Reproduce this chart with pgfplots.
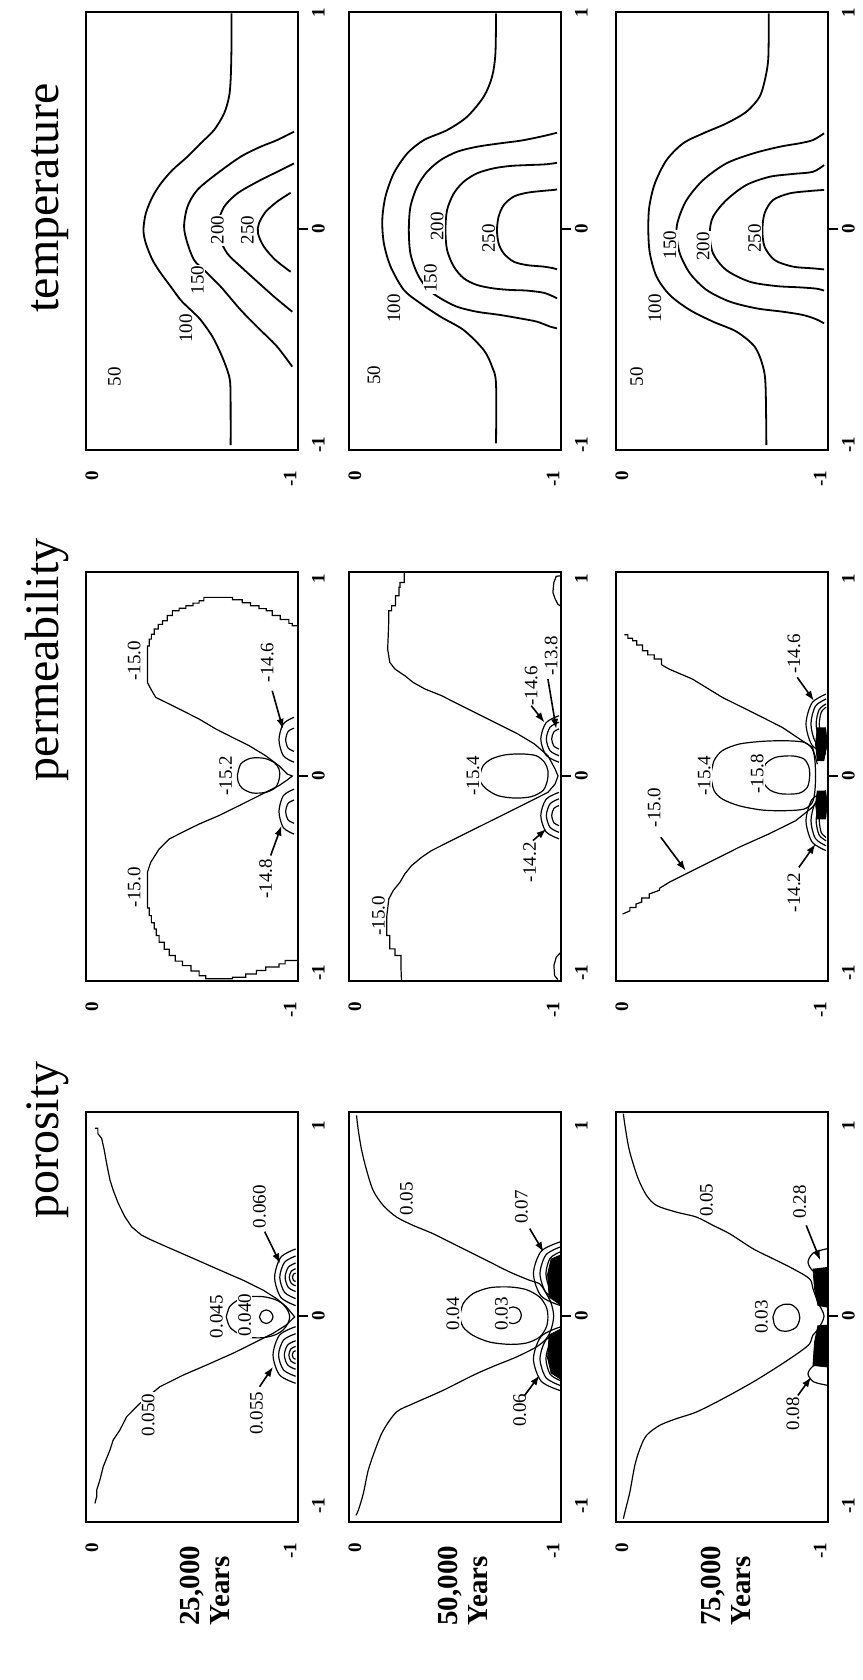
\documentclass[border=0pt]{standalone}
\usepackage{fontspec}
\setmainfont{Liberation Serif}
\usepackage{pgfplots}
\pgfplotsset{compat=1.18}
\usetikzlibrary{arrows.meta}

% one panel: depth runs left (0) to right (-1), lateral position runs bottom (-1) to top (1)
\pgfplotsset{
  panel/.style={
    anchor=south west, scale only axis, width=106pt,
    xmin=-1.04, xmax=0.03, x dir=reverse,
    xtick={-1,0}, xticklabels={-1,0},
    ytick={-1,0,1}, yticklabels={-1,0,1},
    xtick pos=bottom, ytick pos=right, yticklabel pos=right,
    major tick length=0pt,
    tick label style={font=\fontsize{9.5}{10}\selectfont\bfseries},
    xticklabel style={rotate=90, anchor=east},
    yticklabel style={rotate=90, anchor=north},
    xticklabel shift=7pt, yticklabel shift=3.5pt,
    extra y ticks={0}, extra y tick labels={{}},
    extra y tick style={tick align=outside, major tick length=5pt,
      tick style={line width=1.3pt, black}},
    axis line style={line width=1.3pt},
    tick style={black},
  },
  rowT/.style={panel, height=219pt, ymin=-1.023, ymax=1.005},
  rowK/.style={panel, height=204.5pt, ymin=-1.041, ymax=1.036},
  rowP/.style={panel, height=205pt, ymin=-1.084, ymax=1.074},
}
\tikzset{
  ct/.style={black, line width=0.9pt, smooth, mark=none},
  cl/.style={black, line width=0.6pt, mark=none},
  cs/.style={cl, smooth},
  band/.style={black, fill=black, line width=0.4pt, mark=none},
  lb/.style={rotate=90, font=\fontsize{9.5}{10}\selectfont, fill=white, inner sep=0.6pt},
  ar/.style={-{Latex[length=5pt,width=3.6pt]}, line width=0.8pt},
  ttl/.style={rotate=90, anchor=base, font=\fontsize{24}{28}\selectfont},
  yrs/.style={rotate=90, anchor=west, align=left, inner sep=0pt,
    font=\fontsize{14.5}{15}\selectfont\bfseries},
}

\begin{document}
\begin{tikzpicture}
\path[use as bounding box] (0,0) rectangle (431pt,840pt);

% column titles and time labels
\node[ttl] at (29pt,741pt) {temperature};
\node[ttl] at (29pt,510pt) {permeability};
\node[ttl] at (29pt,270pt) {porosity};
\node[yrs] at (102.5pt,27pt) {25,000\\Years};
\node[yrs] at (231.5pt,27pt) {50,000\\Years};
\node[yrs] at (363pt,27pt) {75,000\\Years};

%% ---------------- temperature ----------------
\begin{axis}[rowT, at={(43pt,615pt)}]
\addplot[ct] coordinates {(-0.700,-1.000) (-0.700,-0.869) (-0.698,-0.715) (-0.683,-0.653) (-0.650,-0.576) (-0.608,-0.498) (-0.549,-0.421) (-0.499,-0.375) (-0.448,-0.329) (-0.398,-0.267) (-0.348,-0.205) (-0.306,-0.144) (-0.272,-0.066) (-0.260,-0.005) (-0.272,0.073) (-0.306,0.150) (-0.348,0.211) (-0.406,0.273) (-0.482,0.335) (-0.549,0.397) (-0.616,0.458) (-0.667,0.535) (-0.692,0.613) (-0.700,0.690) (-0.704,0.829) (-0.704,0.998)};
\addplot[ct] coordinates {(-1.02,0.451) (-0.935,0.412) (-0.851,0.381) (-0.751,0.335) (-0.633,0.258) (-0.532,0.181) (-0.482,0.103) (-0.465,0.011) (-0.482,-0.066) (-0.516,-0.144) (-0.566,-0.190) (-0.650,-0.267) (-0.751,-0.375) (-0.851,-0.468) (-0.935,-0.545) (-1.011,-0.637)};
\addplot[ct] coordinates {(-1.02,0.304) (-0.935,0.265) (-0.835,0.219) (-0.734,0.165) (-0.667,0.103) (-0.636,0.026) (-0.641,-0.035) (-0.683,-0.113) (-0.751,-0.174) (-0.835,-0.244) (-0.919,-0.313) (-1.011,-0.383)};
\addplot[ct] coordinates {(-1.003,0.168) (-0.935,0.127) (-0.877,0.080) (-0.843,0.026) (-0.838,-0.020) (-0.868,-0.082) (-0.927,-0.144) (-1.003,-0.198)};
\node[lb] at (axis cs:-0.113,-0.684) {50};
\node[lb] at (axis cs:-0.474,-0.460) {100};
\node[lb] at (axis cs:-0.532,-0.236) {150};
\node[lb] at (axis cs:-0.633,-0.005) {200};
\node[lb] at (axis cs:-0.784,-0.005) {250};
\end{axis}

\begin{axis}[rowT, at={(174.5pt,615pt)}]
\addplot[ct] coordinates {(-0.712,-0.992) (-0.712,-0.715) (-0.692,-0.637) (-0.650,-0.560) (-0.549,-0.468) (-0.432,-0.406) (-0.331,-0.344) (-0.247,-0.282) (-0.180,-0.174) (-0.146,-0.066) (-0.138,0.042) (-0.154,0.150) (-0.196,0.258) (-0.264,0.350) (-0.348,0.412) (-0.465,0.458) (-0.566,0.520) (-0.650,0.613) (-0.692,0.705) (-0.709,0.813) (-0.712,0.998)};
\addplot[ct] coordinates {(-1.02,0.446) (-0.986,0.438) (-0.919,0.424) (-0.835,0.409) (-0.734,0.397) (-0.616,0.381) (-0.516,0.358) (-0.432,0.319) (-0.364,0.265) (-0.314,0.196) (-0.280,0.103) (-0.272,-0.005) (-0.280,-0.113) (-0.314,-0.205) (-0.364,-0.275) (-0.432,-0.321) (-0.516,-0.360) (-0.616,-0.383) (-0.734,-0.398) (-0.835,-0.414) (-0.919,-0.429) (-0.986,-0.452) (-1.02,-0.460)};
\addplot[ct] coordinates {(-1.02,0.307) (-1.003,0.304) (-0.952,0.299) (-0.868,0.296) (-0.784,0.292) (-0.700,0.281) (-0.616,0.258) (-0.549,0.219) (-0.499,0.165) (-0.465,0.088) (-0.457,-0.005) (-0.465,-0.097) (-0.499,-0.174) (-0.549,-0.228) (-0.616,-0.259) (-0.700,-0.275) (-0.784,-0.282) (-0.868,-0.285) (-0.952,-0.295) (-1.003,-0.313) (-1.02,-0.321)};
\addplot[ct] coordinates {(-1.02,0.184) (-1.003,0.181) (-0.952,0.177) (-0.868,0.168) (-0.801,0.150) (-0.751,0.111) (-0.725,0.057) (-0.717,-0.005) (-0.725,-0.066) (-0.751,-0.113) (-0.801,-0.151) (-0.868,-0.167) (-0.952,-0.174) (-1.003,-0.182) (-1.02,-0.187)};
\node[lb] at (axis cs:-0.096,-0.676) {50};
\node[lb] at (axis cs:-0.196,-0.367) {100};
\node[lb] at (axis cs:-0.381,-0.228) {150};
\node[lb] at (axis cs:-0.415,0.011) {200};
\node[lb] at (axis cs:-0.675,-0.043) {250};
\end{axis}

\begin{axis}[rowT, at={(308pt,615pt)}]
\addplot[ct] coordinates {(-0.741,0.998) (-0.739,0.798) (-0.725,0.705) (-0.695,0.613) (-0.628,0.543) (-0.527,0.489) (-0.410,0.443) (-0.309,0.397) (-0.225,0.319) (-0.166,0.211) (-0.138,0.103) (-0.133,-0.005) (-0.141,-0.113) (-0.175,-0.221) (-0.242,-0.306) (-0.343,-0.375) (-0.460,-0.429) (-0.578,-0.475) (-0.670,-0.545) (-0.712,-0.637) (-0.725,-0.730) (-0.729,-1.000)};
\addplot[ct] coordinates {(-1.02,0.443) (-0.964,0.412) (-0.897,0.397) (-0.796,0.381) (-0.662,0.350) (-0.527,0.304) (-0.410,0.227) (-0.326,0.134) (-0.284,0.042) (-0.275,-0.020) (-0.292,-0.113) (-0.343,-0.205) (-0.427,-0.282) (-0.544,-0.336) (-0.678,-0.367) (-0.813,-0.383) (-0.914,-0.398) (-0.981,-0.418) (-1.02,-0.437)};
\addplot[ct] coordinates {(-1.02,0.296) (-0.964,0.265) (-0.863,0.255) (-0.746,0.242) (-0.628,0.204) (-0.527,0.134) (-0.460,0.057) (-0.443,-0.020) (-0.460,-0.113) (-0.527,-0.190) (-0.645,-0.244) (-0.779,-0.264) (-0.897,-0.270) (-0.981,-0.276) (-1.02,-0.285)};
\addplot[ct] coordinates {(-1.02,0.181) (-0.947,0.176) (-0.846,0.165) (-0.762,0.134) (-0.720,0.073) (-0.709,-0.005) (-0.720,-0.082) (-0.771,-0.144) (-0.863,-0.174) (-0.964,-0.182) (-1.02,-0.187)};
\node[lb] at (axis cs:-0.074,-0.684) {50};
\node[lb] at (axis cs:-0.166,-0.367) {100};
\node[lb] at (axis cs:-0.242,-0.074) {150};
\node[lb] at (axis cs:-0.410,-0.082) {200};
\node[lb] at (axis cs:-0.670,-0.043) {250};
\end{axis}

%% ---------------- permeability ----------------
\begin{axis}[rowK, at={(43pt,349.5pt)}]
\addplot[cl] coordinates {(-1.04,0.763) (-1.011,0.763) (-1.011,0.775) (-0.994,0.775) (-0.994,0.795) (-0.950,0.795) (-0.950,0.815) (-0.910,0.815) (-0.910,0.839) (-0.880,0.839) (-0.880,0.850) (-0.843,0.850) (-0.843,0.865) (-0.800,0.865) (-0.800,0.880) (-0.759,0.880) (-0.759,0.895) (-0.709,0.895) (-0.709,0.907) (-0.591,0.907) (-0.565,0.907) (-0.565,0.890) (-0.541,0.890) (-0.541,0.878) (-0.510,0.878) (-0.510,0.865) (-0.474,0.865) (-0.474,0.852) (-0.440,0.852) (-0.440,0.839) (-0.406,0.839) (-0.406,0.815) (-0.380,0.815) (-0.380,0.788) (-0.356,0.788) (-0.356,0.770) (-0.335,0.770) (-0.335,0.746) (-0.314,0.746) (-0.314,0.720) (-0.300,0.720) (-0.300,0.695) (-0.289,0.695) (-0.289,0.660) (-0.280,0.660) (-0.280,0.475) (-0.297,0.442) (-0.322,0.399) (-0.373,0.374) (-0.457,0.332) (-0.541,0.289) (-0.625,0.239) (-0.709,0.196) (-0.793,0.154) (-0.877,0.103) (-0.944,0.052) (-0.986,0.010) (-1.011,0.000) (-0.986,-0.020) (-0.944,-0.049) (-0.843,-0.100) (-0.742,-0.151) (-0.641,-0.201) (-0.541,-0.244) (-0.474,-0.277) (-0.390,-0.320) (-0.339,-0.371) (-0.297,-0.438) (-0.280,-0.489) (-0.280,-0.670) (-0.289,-0.670) (-0.289,-0.709) (-0.300,-0.709) (-0.300,-0.745) (-0.314,-0.745) (-0.314,-0.777) (-0.325,-0.777) (-0.325,-0.810) (-0.339,-0.810) (-0.339,-0.844) (-0.365,-0.844) (-0.365,-0.880) (-0.390,-0.880) (-0.390,-0.912) (-0.420,-0.912) (-0.420,-0.940) (-0.457,-0.940) (-0.457,-0.963) (-0.500,-0.963) (-0.500,-0.990) (-0.541,-0.990) (-0.541,-1.014) (-0.574,-1.014) (-0.574,-1.030) (-0.709,-1.030) (-0.709,-1.022) (-0.776,-1.022) (-0.776,-1.005) (-0.830,-1.005) (-0.830,-0.988) (-0.877,-0.988) (-0.877,-0.970) (-0.944,-0.970) (-0.944,-0.954) (-0.975,-0.954) (-0.975,-0.937) (-1.04,-0.937)};
\addplot[cs] coordinates {(-0.734,0.002) (-0.751,0.061) (-0.801,0.090) (-0.868,0.090) (-0.919,0.069) (-0.944,0.036) (-0.947,-0.007) (-0.927,-0.058) (-0.877,-0.083) (-0.809,-0.086) (-0.759,-0.063) (-0.739,-0.032) (-0.734,0.002)};
\addplot[cs] coordinates {(-1.02,0.298) (-0.966,0.265) (-0.944,0.184) (-0.966,0.103) (-1.02,0.070)};
\addplot[cs] coordinates {(-1.02,0.243) (-0.990,0.226) (-0.978,0.184) (-0.990,0.142) (-1.02,0.125)};
\addplot[cs] coordinates {(-1.02,-0.067) (-0.966,-0.100) (-0.944,-0.181) (-0.966,-0.262) (-1.02,-0.295)};
\addplot[cs] coordinates {(-1.02,-0.122) (-0.990,-0.139) (-0.978,-0.181) (-0.990,-0.223) (-1.02,-0.240)};
\node[lb] at (axis cs:-0.213,0.585) {-15.0};
\node[lb] at (axis cs:-0.213,-0.565) {-15.0};
\node[lb] at (axis cs:-0.675,0.002) {-15.2};
\node[lb] at (axis cs:-0.885,0.577) {-14.6};
\node[lb] at (axis cs:-0.877,-0.523) {-14.8};
\draw[ar] (axis cs:-0.910,0.433) -- (axis cs:-0.964,0.239);
\draw[ar] (axis cs:-0.902,-0.404) -- (axis cs:-0.957,-0.252);
\end{axis}

\begin{axis}[rowK, at={(174.5pt,349.5pt)}]
\addplot[cl] coordinates {(-0.249,1.037) (-0.249,0.983) (-0.227,0.983) (-0.227,0.958) (-0.222,0.958) (-0.222,0.915) (-0.205,0.915) (-0.205,0.865) (-0.185,0.865) (-0.185,0.839) (-0.171,0.839) (-0.171,0.797) (-0.168,0.712) (-0.165,0.645) (-0.176,0.577) (-0.202,0.543) (-0.252,0.509) (-0.294,0.475) (-0.353,0.442) (-0.437,0.408) (-0.521,0.365) (-0.621,0.315) (-0.722,0.264) (-0.823,0.213) (-0.907,0.162) (-0.974,0.103) (-1.010,0.036) (-1.025,0.000) (-1.010,-0.041) (-0.974,-0.083) (-0.891,-0.125) (-0.790,-0.176) (-0.672,-0.235) (-0.554,-0.294) (-0.453,-0.345) (-0.386,-0.379) (-0.336,-0.413) (-0.286,-0.455) (-0.252,-0.497) (-0.227,-0.540) (-0.193,-0.582) (-0.171,-0.624) (-0.161,-0.709) (-0.161,-0.810) (-0.176,-0.810) (-0.176,-0.878) (-0.202,-0.878) (-0.202,-0.912) (-0.232,-0.912) (-0.232,-0.963) (-0.235,-1.041)};
\addplot[cl] coordinates {(-1.04,1.017) (-1.016,1.014) (-1.004,0.983) (-0.999,0.932) (-1.011,0.898) (-1.024,0.873) (-1.04,0.861)};
\addplot[cl] coordinates {(-1.04,-0.895) (-1.016,-0.920) (-1.004,-0.963) (-1.008,-1.014) (-1.024,-1.034)};
\addplot[cs] coordinates {(-0.630,0.002) (-0.647,0.052) (-0.688,0.086) (-0.756,0.107) (-0.840,0.112) (-0.915,0.103) (-0.957,0.069) (-0.974,0.027) (-0.971,-0.024) (-0.949,-0.074) (-0.890,-0.105) (-0.806,-0.112) (-0.722,-0.100) (-0.663,-0.066) (-0.635,-0.032) (-0.630,0.002)};
\addplot[cs] coordinates {(-1.03,0.306) (-0.965,0.271) (-0.938,0.188) (-0.965,0.105) (-1.03,0.070)};
\addplot[cs] coordinates {(-1.03,0.273) (-0.985,0.248) (-0.966,0.188) (-0.985,0.128) (-1.03,0.103)};
\addplot[cs] coordinates {(-1.03,0.239) (-1.004,0.224) (-0.993,0.188) (-1.004,0.152) (-1.03,0.137)};
\addplot[cs] coordinates {(-1.03,-0.083) (-0.965,-0.118) (-0.938,-0.201) (-0.965,-0.284) (-1.03,-0.319)};
\addplot[cs] coordinates {(-1.03,-0.116) (-0.985,-0.141) (-0.966,-0.201) (-0.985,-0.261) (-1.03,-0.286)};
\addplot[cs] coordinates {(-1.03,-0.150) (-1.004,-0.165) (-0.993,-0.201) (-1.004,-0.237) (-1.03,-0.252)};
\node[lb] at (axis cs:-0.118,-0.709) {-15.0};
\node[lb] at (axis cs:-0.596,0.002) {-15.4};
\node[lb] at (axis cs:-0.890,0.459) {-14.6};
\node[lb] at (axis cs:-0.991,0.611) {-13.8};
\node[lb] at (axis cs:-0.882,-0.438) {-14.2};
\draw[ar] (axis cs:-0.890,0.357) -- (axis cs:-0.957,0.272);
\draw[ar] (axis cs:-0.974,0.492) -- (axis cs:-1.016,0.239);
\draw[ar] (axis cs:-0.898,-0.328) -- (axis cs:-0.966,-0.269);
\end{axis}

\begin{axis}[rowK, at={(308pt,349.5pt)}]
\addplot[cl] coordinates {(-0.012,0.717) (-0.030,0.717) (-0.030,0.700) (-0.054,0.700) (-0.054,0.687) (-0.075,0.687) (-0.075,0.665) (-0.104,0.665) (-0.104,0.636) (-0.130,0.636) (-0.130,0.615) (-0.163,0.615) (-0.163,0.594) (-0.200,0.594) (-0.200,0.565) (-0.238,0.543) (-0.356,0.492) (-0.507,0.399) (-0.675,0.315) (-0.809,0.247) (-0.910,0.179) (-0.961,0.146) (-0.977,0.095) (-0.986,0.060)};
\addplot[cl] coordinates {(-0.986,-0.125) (-0.961,-0.159) (-0.877,-0.227) (-0.742,-0.294) (-0.591,-0.362) (-0.457,-0.430) (-0.339,-0.489) (-0.238,-0.540) (-0.190,-0.570) (-0.190,-0.580) (-0.138,-0.599) (-0.138,-0.620) (-0.100,-0.620) (-0.100,-0.640) (-0.071,-0.650) (-0.071,-0.668) (-0.040,-0.668) (-0.040,-0.685) (-0.003,-0.701)};
\addplot[cs] coordinates {(-0.448,0.002) (-0.465,0.078) (-0.507,0.129) (-0.591,0.162) (-0.709,0.176) (-0.826,0.179) (-0.919,0.171) (-0.961,0.137) (-0.974,0.078) (-0.977,0.002) (-0.974,-0.074) (-0.961,-0.134) (-0.919,-0.168) (-0.826,-0.176) (-0.709,-0.173) (-0.591,-0.151) (-0.507,-0.117) (-0.465,-0.074) (-0.448,0.002)};
\addplot[cs] coordinates {(-0.709,0.010) (-0.725,0.061) (-0.776,0.095) (-0.860,0.102) (-0.919,0.086) (-0.944,0.044) (-0.947,-0.007) (-0.935,-0.058) (-0.893,-0.088) (-0.809,-0.091) (-0.751,-0.074) (-0.717,-0.037) (-0.709,0.010)};
\addplot[cs] coordinates {(-1.03,0.416) (-0.959,0.371) (-0.929,0.264) (-0.959,0.157) (-1.03,0.112)};
\addplot[cs] coordinates {(-1.03,0.391) (-0.976,0.354) (-0.954,0.264) (-0.976,0.174) (-1.03,0.137)};
\addplot[cs] coordinates {(-1.03,0.366) (-0.995,0.336) (-0.980,0.264) (-0.995,0.192) (-1.03,0.162)};
\addplot[cs] coordinates {(-1.03,0.349) (-1.006,0.324) (-0.996,0.264) (-1.006,0.204) (-1.03,0.179)};
\addplot[cs] coordinates {(-1.03,-0.075) (-0.959,-0.120) (-0.929,-0.227) (-0.959,-0.334) (-1.03,-0.379)};
\addplot[cs] coordinates {(-1.03,-0.100) (-0.976,-0.137) (-0.954,-0.227) (-0.976,-0.317) (-1.03,-0.354)};
\addplot[cs] coordinates {(-1.03,-0.125) (-0.995,-0.155) (-0.980,-0.227) (-0.995,-0.299) (-1.03,-0.329)};
\addplot[cs] coordinates {(-1.03,-0.142) (-1.006,-0.167) (-0.996,-0.227) (-1.006,-0.287) (-1.03,-0.312)};
\addplot[band] coordinates {(-0.986,0.247) (-0.977,0.162) (-0.986,0.078) (-1.019,0.078) (-1.036,0.162) (-1.028,0.247)};
\addplot[band] coordinates {(-0.986,-0.074) (-0.977,-0.142) (-0.986,-0.218) (-1.028,-0.218) (-1.036,-0.142) (-1.028,-0.074)};
\node[lb] at (axis cs:-0.163,-0.159) {-15.0};
\node[lb] at (axis cs:-0.415,0.002) {-15.4};
\node[lb] at (axis cs:-0.683,0.010) {-15.8};
\node[lb] at (axis cs:-0.868,0.619) {-14.6};
\node[lb] at (axis cs:-0.868,-0.591) {-14.2};
\draw[ar] (axis cs:-0.196,-0.311) -- (axis cs:-0.322,-0.481);
\draw[ar] (axis cs:-0.885,0.501) -- (axis cs:-0.969,0.382);
\draw[ar] (axis cs:-0.893,-0.464) -- (axis cs:-0.977,-0.345);
\end{axis}

%% ---------------- porosity ----------------
\begin{axis}[rowP, at={(43pt,79pt)}]
\addplot[cl] coordinates {(-0.015,0.988) (-0.030,0.988) (-0.030,0.960) (-0.049,0.935) (-0.062,0.874) (-0.074,0.804) (-0.091,0.716) (-0.107,0.663) (-0.133,0.593) (-0.166,0.523) (-0.200,0.470) (-0.250,0.426) (-0.292,0.404) (-0.376,0.365) (-0.510,0.304) (-0.645,0.242) (-0.762,0.189) (-0.863,0.137) (-0.930,0.093) (-0.981,0.049) (-1.023,-0.004) (-0.981,-0.047) (-0.914,-0.091) (-0.813,-0.144) (-0.712,-0.196) (-0.578,-0.258) (-0.460,-0.311) (-0.343,-0.372) (-0.292,-0.416) (-0.242,-0.460) (-0.175,-0.530) (-0.141,-0.600) (-0.107,-0.653) (-0.091,-0.705) (-0.057,-0.793) (-0.040,-0.863) (-0.024,-0.916) (-0.024,-0.950) (-0.015,-0.986)};
\addplot[cs] coordinates {(-0.678,-0.004) (-0.695,0.049) (-0.737,0.084) (-0.796,0.102) (-0.863,0.102) (-0.922,0.088) (-0.964,0.063) (-0.989,0.028) (-0.998,-0.004) (-0.989,-0.039) (-0.964,-0.074) (-0.922,-0.100) (-0.863,-0.114) (-0.796,-0.112) (-0.737,-0.091) (-0.695,-0.056) (-0.678,-0.004)};
\addplot[cs] coordinates {(-0.846,-0.004) (-0.856,0.021) (-0.880,0.032) (-0.903,0.021) (-0.914,-0.004) (-0.903,-0.028) (-0.880,-0.039) (-0.856,-0.028) (-0.846,-0.004)};
\addplot[cs] coordinates {(-1.028,0.353) (-0.953,0.309) (-0.922,0.204) (-0.953,0.099) (-1.028,0.055)};
\addplot[cs] coordinates {(-1.028,0.316) (-0.972,0.283) (-0.948,0.204) (-0.972,0.125) (-1.028,0.092)};
\addplot[cs] coordinates {(-1.028,0.279) (-0.991,0.257) (-0.975,0.204) (-0.991,0.151) (-1.028,0.129)};
\addplot[cs] coordinates {(-1.028,0.249) (-1.006,0.236) (-0.996,0.204) (-1.006,0.172) (-1.028,0.159)};
\addplot[cs] coordinates {(-1.028,0.226) (-1.017,0.220) (-1.012,0.204) (-1.017,0.188) (-1.028,0.182)};
\addplot[cs] coordinates {(-1.028,-0.056) (-0.947,-0.100) (-0.914,-0.205) (-0.947,-0.310) (-1.028,-0.354)};
\addplot[cs] coordinates {(-1.028,-0.093) (-0.967,-0.126) (-0.942,-0.205) (-0.967,-0.284) (-1.028,-0.317)};
\addplot[cs] coordinates {(-1.028,-0.130) (-0.988,-0.152) (-0.971,-0.205) (-0.988,-0.258) (-1.028,-0.280)};
\addplot[cs] coordinates {(-1.028,-0.160) (-1.004,-0.173) (-0.994,-0.205) (-1.004,-0.237) (-1.028,-0.250)};
\addplot[cs] coordinates {(-1.028,-0.183) (-1.016,-0.189) (-1.011,-0.205) (-1.016,-0.221) (-1.028,-0.227)};
\node[lb] at (axis cs:-0.284,-0.521) {0.050};
\node[lb] at (axis cs:-0.628,-0.004) {0.045};
\node[lb] at (axis cs:-0.771,0.005) {0.040};
\node[lb] at (axis cs:-0.846,0.575) {0.060};
\node[lb] at (axis cs:-0.830,-0.512) {0.055};
\draw[ar] (axis cs:-0.872,0.444) -- (axis cs:-0.950,0.277);
\draw[ar] (axis cs:-0.846,-0.372) -- (axis cs:-0.914,-0.267);
\end{axis}

\begin{axis}[rowP, at={(174.5pt,79pt)}]
\addplot[cs] coordinates {(-0.008,1.056) (-0.017,0.977) (-0.034,0.872) (-0.059,0.767) (-0.092,0.661) (-0.143,0.582) (-0.210,0.521) (-0.294,0.477) (-0.395,0.433) (-0.512,0.372) (-0.647,0.302) (-0.781,0.232) (-0.882,0.188) (-0.932,0.170) (-0.966,0.118) (-0.991,0.065) (-1.003,0.000) (-0.991,-0.067) (-0.966,-0.119) (-0.915,-0.163) (-0.814,-0.216) (-0.705,-0.262) (-0.596,-0.312) (-0.445,-0.391) (-0.294,-0.461) (-0.210,-0.505) (-0.143,-0.602) (-0.101,-0.707) (-0.067,-0.812) (-0.042,-0.935) (-0.017,-1.023) (-0.005,-1.049)};
\addplot[cs] coordinates {(-0.529,-0.005) (-0.546,0.065) (-0.596,0.118) (-0.680,0.149) (-0.781,0.153) (-0.865,0.139) (-0.932,0.100) (-0.966,0.047) (-0.974,-0.005) (-0.966,-0.058) (-0.932,-0.111) (-0.865,-0.142) (-0.781,-0.149) (-0.680,-0.137) (-0.596,-0.102) (-0.546,-0.058) (-0.529,-0.005)};
\addplot[cs] coordinates {(-0.756,0.004) (-0.768,0.035) (-0.798,0.048) (-0.828,0.035) (-0.840,0.004) (-0.828,-0.027) (-0.798,-0.040) (-0.768,-0.027) (-0.756,0.004)};
\addplot[cs] coordinates {(-1.035,0.390) (-0.940,0.341) (-0.901,0.223) (-0.940,0.105) (-1.035,0.056)};
\addplot[cs] coordinates {(-1.035,0.363) (-0.964,0.322) (-0.934,0.223) (-0.964,0.124) (-1.035,0.083)};
\addplot[cs] coordinates {(-1.035,0.337) (-0.985,0.304) (-0.964,0.223) (-0.985,0.142) (-1.035,0.109)};
\addplot[cs] coordinates {(-1.035,-0.058) (-0.940,-0.107) (-0.901,-0.225) (-0.940,-0.343) (-1.035,-0.392)};
\addplot[cs] coordinates {(-1.035,-0.085) (-0.964,-0.126) (-0.934,-0.225) (-0.964,-0.324) (-1.035,-0.365)};
\addplot[cs] coordinates {(-1.035,-0.111) (-0.985,-0.144) (-0.964,-0.225) (-0.985,-0.306) (-1.035,-0.339)};
\addplot[band] coordinates {(-1.035,0.320) (-0.990,0.300) (-0.972,0.220) (-0.980,0.100) (-1.035,0.060)};
\addplot[band] coordinates {(-1.035,-0.070) (-0.980,-0.100) (-0.972,-0.220) (-0.990,-0.300) (-1.035,-0.330)};
\node[lb] at (axis cs:-0.260,0.618) {0.05};
\node[lb] at (axis cs:-0.495,0.012) {0.04};
\node[lb] at (axis cs:-0.739,0.012) {0.03};
\node[lb] at (axis cs:-0.840,0.574) {0.07};
\node[lb] at (axis cs:-0.831,-0.496) {0.06};
\draw[ar] (axis cs:-0.882,0.460) -- (axis cs:-0.952,0.337);
\draw[ar] (axis cs:-0.856,-0.418) -- (axis cs:-0.932,-0.312);
\end{axis}

\begin{axis}[rowP, at={(308pt,79pt)}]
\addplot[cs] coordinates {(-0.007,1.065) (-0.015,1.004) (-0.032,0.898) (-0.049,0.828) (-0.082,0.723) (-0.124,0.635) (-0.175,0.582) (-0.275,0.547) (-0.376,0.521) (-0.460,0.477) (-0.544,0.433) (-0.662,0.354) (-0.762,0.302) (-0.863,0.249) (-0.947,0.196) (-0.964,0.144) (-0.990,0.070) (-1.020,0.000) (-0.990,-0.070) (-0.964,-0.100) (-0.947,-0.146) (-0.897,-0.189) (-0.796,-0.260) (-0.662,-0.347) (-0.510,-0.435) (-0.376,-0.505) (-0.275,-0.540) (-0.191,-0.575) (-0.124,-0.628) (-0.091,-0.698) (-0.065,-0.786) (-0.040,-0.926) (-0.015,-1.032) (-0.007,-1.067)};
\addplot[cs] coordinates {(-0.762,-0.005) (-0.779,0.039) (-0.813,0.060) (-0.855,0.060) (-0.888,0.030) (-0.897,-0.014) (-0.880,-0.058) (-0.838,-0.079) (-0.796,-0.075) (-0.771,-0.049) (-0.762,-0.005)};
\addplot[cs] coordinates {(-1.035,0.354) (-0.967,0.333) (-0.939,0.284) (-0.967,0.235) (-1.035,0.214)};
\addplot[cs] coordinates {(-1.035,-0.244) (-0.967,-0.262) (-0.939,-0.304) (-0.967,-0.346) (-1.035,-0.364)};
\addplot[band] coordinates {(-0.964,0.249) (-0.972,0.144) (-0.989,0.056) (-1.035,0.047) (-1.035,0.258)};
\addplot[band] coordinates {(-0.989,-0.049) (-0.972,-0.137) (-0.964,-0.260) (-1.035,-0.268) (-1.035,-0.046)};
\node[lb] at (axis cs:-0.427,0.609) {0.05};
\node[lb] at (axis cs:-0.704,-0.005) {0.03};
\node[lb] at (axis cs:-0.897,0.600) {0.28};
\node[lb] at (axis cs:-0.863,-0.514) {0.08};
\draw[ar] (axis cs:-0.930,0.477) -- (axis cs:-1.001,0.293);
\draw[ar] (axis cs:-0.888,-0.418) -- (axis cs:-0.955,-0.321);
\end{axis}
\end{tikzpicture}
\end{document}
